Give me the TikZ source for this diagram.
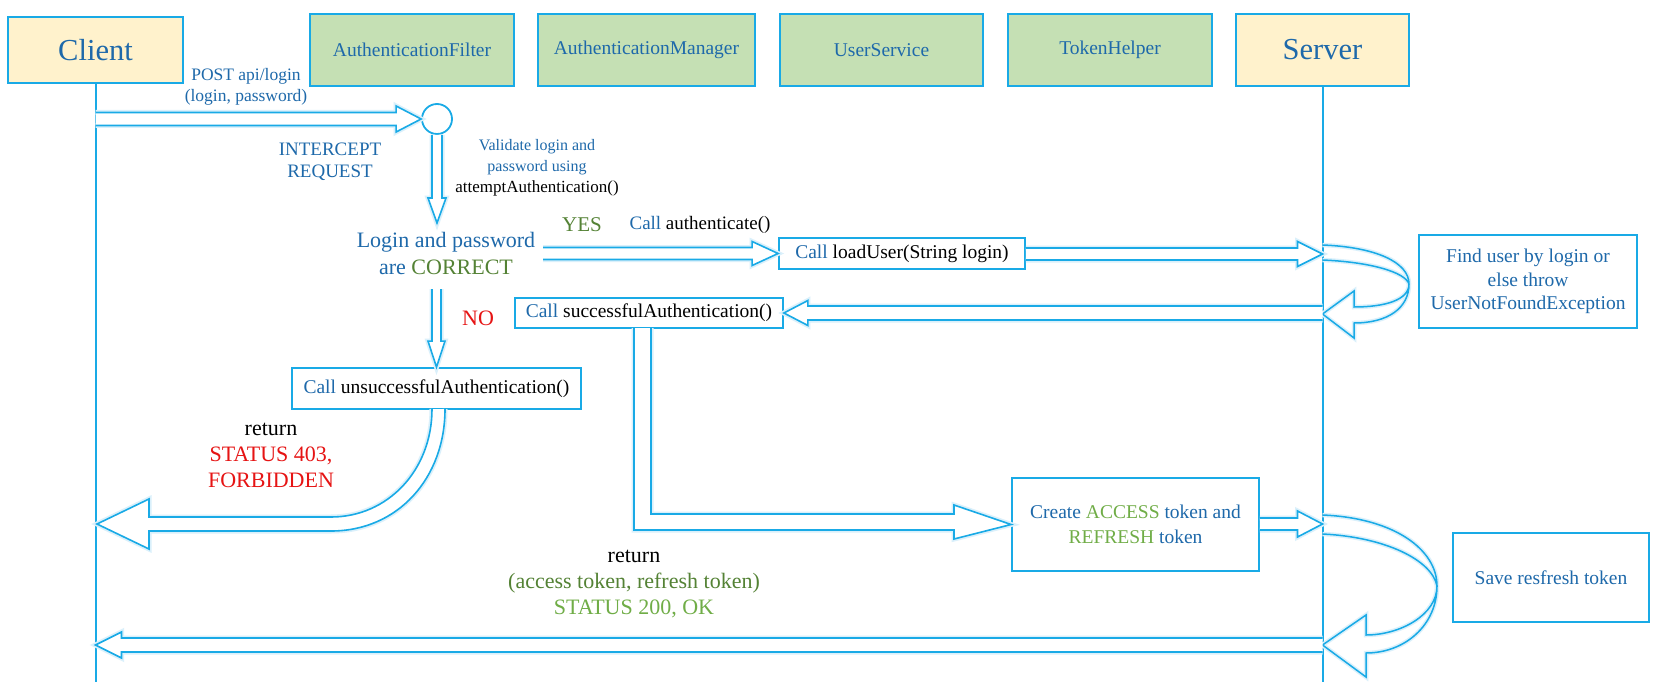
\documentclass[tikz,border=0pt]{standalone}
\usepackage{fontspec}
\setmainfont{Liberation Serif}
\usetikzlibrary{calc}
\definecolor{lc}{RGB}{25,170,230}
\definecolor{tb}{RGB}{30,105,170}
\definecolor{gfill}{RGB}{197,224,180}
\definecolor{yfill}{RGB}{255,242,204}
\definecolor{dg}{RGB}{84,130,53}
\definecolor{lg}{RGB}{112,173,71}
\definecolor{rd}{RGB}{230,20,20}
\definecolor{glowc}{RGB}{218,240,251}
\newcommand\fsz[2]{\fontsize{#1pt}{#2pt}\selectfont}
\tikzset{
  hdr/.style={draw=lc, line width=2pt, inner sep=0pt, text=tb},
  boxn/.style={draw=lc, line width=1.8pt, fill=white, inner sep=0pt, font=\fsz{19.5}{23.5}},
  life/.style={draw=lc, line width=2pt},
  blk/.style={draw=lc, line width=1.6pt, fill=white, line join=miter, preaction={draw=glowc, line width=5pt}},
  uturn/.style={draw=lc, line width=1.5pt, line join=miter, preaction={draw=glowc, line width=4.5pt}},
  lbl/.style={inner sep=0pt, align=center}
}
% rightward block arrow: start, tip, half shaft, half head, head length
\newcommand\rblock[5]{\draw[blk] let \p1=(#1), \p2=(#2) in
  (\x1,\y2+#3pt) -- (\x2-#5pt,\y2+#3pt) -- (\x2-#5pt,\y2+#4pt) -- (\x2,\y2) -- (\x2-#5pt,\y2-#4pt) -- (\x2-#5pt,\y2-#3pt) -- (\x1,\y2-#3pt);}
\newcommand\lblock[5]{\draw[blk] let \p1=(#1), \p2=(#2) in
  (\x1,\y2+#3pt) -- (\x2+#5pt,\y2+#3pt) -- (\x2+#5pt,\y2+#4pt) -- (\x2,\y2) -- (\x2+#5pt,\y2-#4pt) -- (\x2+#5pt,\y2-#3pt) -- (\x1,\y2-#3pt);}
\newcommand\dblock[5]{\draw[blk] let \p1=(#1), \p2=(#2) in
  (\x2-#3pt,\y1) -- (\x2-#3pt,\y2+#5pt) -- (\x2-#4pt,\y2+#5pt) -- (\x2,\y2) -- (\x2+#4pt,\y2+#5pt) -- (\x2+#3pt,\y2+#5pt) -- (\x2+#3pt,\y1);}
\begin{document}
\begin{tikzpicture}[x=1pt,y=-1pt]
\useasboundingbox[fill=white] (0,0) rectangle (1662,682);

% header boxes
\node[hdr, fill=yfill, minimum width=175pt, minimum height=66pt, font=\fsz{30.5}{36}] (client) at (95.5,50) {Client};
\node[hdr, fill=gfill, minimum width=204pt, minimum height=72pt, font=\fsz{19.5}{23}] (afilter) at (412,50) {AuthenticationFilter};
\node[hdr, fill=gfill, minimum width=217pt, minimum height=72pt, font=\fsz{19.5}{23}] (amanager) at (646.5,50) {AuthenticationManager};
\node[hdr, fill=gfill, minimum width=203pt, minimum height=72pt, font=\fsz{19.5}{23}] (uservice) at (881.5,50) {UserService};
\node[hdr, fill=gfill, minimum width=204pt, minimum height=72pt, font=\fsz{19.5}{23}] (thelper) at (1110,50) {TokenHelper};
\node[hdr, fill=yfill, minimum width=173pt, minimum height=72pt, font=\fsz{30.5}{36}] (server) at (1322.5,50) {Server};

% lifelines
\coordinate (cbot) at (95.5,682);
\coordinate (sbot) at (1322.5,682);
\draw[life] (client.south) -- (cbot);
\draw[life] (server.south) -- (sbot);

% POST request
\node[lbl, text=tb, font=\fsz{17.5}{21}] (post) at (246,86.5) {POST api/login\\(login, password)};
\coordinate (postS) at (95.5,119);
\node[circle, draw=lc, line width=1.8pt, fill=white, minimum size=30pt, inner sep=0pt] (circ) at (437,119) {};
\rblock{postS}{circ.west}{6.5}{13}{25}
\node[lbl, text=tb, font=\fsz{19}{22}] (intercept) at (330,162) {INTERCEPT\\REQUEST};
\node[lbl, text=tb, font=\fsz{16}{21}] (validate) at (537,168) {Validate login and\\password using\\{\color{black}\fsz{17}{21}attemptAuthentication()}};

% check
\coordinate (chkT) at (437,223);
\dblock{circ.south}{chkT}{5}{9}{25}
\node[lbl, text=tb, font=\fsz{22}{27}] (login) at (446,253.5) {Login and password\\are \textcolor{dg}{CORRECT}};

% YES branch
\node[lbl, text=dg, font=\fsz{21}{25}] (yes) at (582,225) {YES};
\node[lbl, font=\fsz{19}{23}] (authc) at (700,225) {\textcolor{tb}{Call} authenticate()};
\node[boxn, minimum width=246pt, minimum height=31pt] (load) at (902,253.5) {\textcolor{tb}{Call} loadUser(String login)};
\coordinate (yesS) at (543,253.5);
\rblock{yesS}{load.west}{6}{12}{26}
\coordinate (sv1) at (1322.5,254);
\rblock{load.east}{sv1}{6}{12.5}{25}

% self call 1
\draw[uturn] (1322.5,245) .. controls (1375,247) and (1409,262) .. (1409,284)
  .. controls (1409,308) and (1388,323) .. (1354,323) -- (1354,338) -- (1322.5,314) -- (1354,291) -- (1354,307)
  .. controls (1385,307) and (1409,300) .. (1409,284)
  .. controls (1405,272) and (1370,262) .. (1322.5,260);
\node[boxn, text=tb, align=center, minimum width=218pt, minimum height=93pt] (find) at (1528,281.5) {Find user by login or\\else throw\\UserNotFoundException};

% return to successfulAuthentication
\node[boxn, minimum width=268pt, minimum height=30pt] (succ) at (649,313) {\textcolor{tb}{Call} successfulAuthentication()};
\coordinate (sv2) at (1322.5,314);
\lblock{sv2}{succ.east}{7}{12.5}{24}

% NO branch
\node[lbl, text=rd, font=\fsz{22}{26}] (no) at (478,318) {NO};
\node[boxn, minimum width=289pt, minimum height=41pt] (unsucc) at (436.5,388.5) {\textcolor{tb}{Call} unsuccessfulAuthentication()};
\coordinate (noS) at (437,289);
\dblock{noS}{unsucc.north}{4.5}{8.5}{26}

% return 403
\draw[blk] (445,409) .. controls (445,478) and (398,531) .. (331,531) -- (149,531) -- (149,549) -- (97,524) -- (149,499) -- (149,517) -- (331,517) .. controls (388,517) and (432,470) .. (432,409);
\node[lbl, font=\fsz{22}{26}] (ret403) at (271,455) {return\\\textcolor{rd}{STATUS 403,}\\\textcolor{rd}{FORBIDDEN}};

% create tokens
\node[boxn, align=center, minimum width=247pt, minimum height=93pt, font=\fsz{19.5}{25}] (create) at (1135.5,524.5) {\textcolor{tb}{Create} \textcolor{lg}{ACCESS} \textcolor{tb}{token and}\\\textcolor{lg}{REFRESH} \textcolor{tb}{token}};
\draw[blk] (634,328) -- (634,530) -- (954,530) -- (954,539) -- (create.west) -- (954,505) -- (954,514) -- (651,514) -- (651,328);
\coordinate (sv3) at (1322.5,524);
\rblock{create.east}{sv3}{6}{13}{25}

% self call 2
\draw[uturn] (1322.5,515) .. controls (1395,518) and (1437,550) .. (1437,586)
  .. controls (1437,625) and (1405,653) .. (1366,653) -- (1366,677) -- (1322.5,645) -- (1366,615) -- (1366,635)
  .. controls (1400,635) and (1437,615) .. (1437,586)
  .. controls (1432,560) and (1385,537) .. (1322.5,534);
\node[boxn, text=tb, minimum width=196pt, minimum height=89pt] (save) at (1551,577.5) {Save resfresh token};

% return 200
\node[lbl, font=\fsz{22}{26}] (ret200) at (634,584) {return\\\textcolor{dg}{(access token, refresh token)}\\\textcolor{lg}{STATUS 200, OK}};
\coordinate (sv4) at (1322.5,645);
\coordinate (cl4) at (95.5,645);
\lblock{sv4}{cl4}{7}{13}{26}
\end{tikzpicture}
\end{document}
